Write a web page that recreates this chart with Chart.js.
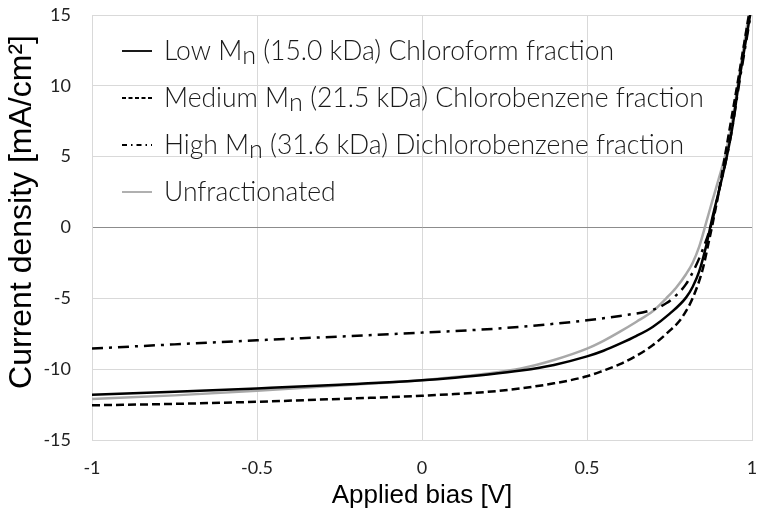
<!DOCTYPE html>
<html>
<head>
<meta charset="utf-8">
<script src="https://cdn.jsdelivr.net/npm/chart.js@4"></script>
<style>
  html, body { margin: 0; padding: 0; background: #ffffff; }
  #wrap { width: 763px; height: 516px; }
</style>
</head>
<body>
<div id="wrap"><canvas id="c" width="763" height="516"></canvas></div>
<script>
// ---- Data ----
const seriesNames = [
  'Low Mₙ (15.0 kDa) Chloroform fraction',
  'Medium Mₙ (21.5 kDa) Chlorobenzene fraction',
  'High Mₙ (31.6 kDa) Dichlorobenzene fraction',
  'Unfractionated'
];

const lowV  = [-1, -0.75, -0.5, -0.25, 0, 0.1, 0.2, 0.3, 0.4, 0.5, 0.55, 0.6, 0.65, 0.7, 0.75, 0.8, 0.82, 0.84, 0.86, 0.88, 0.9, 0.92, 0.94, 0.96, 0.98, 1.0];
const lowJ  = [-11.8, -11.6, -11.36, -11.1, -10.78, -10.6, -10.38, -10.1, -9.7, -9.1, -8.7, -8.2, -7.65, -7.0, -6.1, -4.95, -4.2, -3.1, -1.4, 0.7, 2.6, 4.6, 7.0, 10.2, 13.0, 15.8];

const medV  = [-1, -0.75, -0.5, -0.25, 0, 0.1, 0.2, 0.3, 0.4, 0.5, 0.55, 0.6, 0.65, 0.7, 0.75, 0.78, 0.8, 0.82, 0.85, 0.87, 0.88, 0.9, 0.92, 0.94, 0.96, 0.98, 1.0];
const medJ  = [-12.55, -12.45, -12.3, -12.1, -11.88, -11.75, -11.6, -11.35, -11.0, -10.5, -10.1, -9.65, -9.05, -8.3, -7.3, -6.6, -5.9, -5.0, -3.0, -0.9, 0.2, 2.6, 5.3, 8.0, 10.7, 13.5, 16.3];

const highV = [-1, -0.75, -0.5, -0.25, 0, 0.25, 0.5, 0.6, 0.7, 0.74, 0.76, 0.8, 0.83, 0.85, 0.87, 0.88, 0.9, 0.92, 0.94, 0.96, 0.98, 1.0];
const highJ = [-8.54, -8.25, -7.96, -7.7, -7.42, -7.1, -6.55, -6.24, -5.8, -5.35, -5.0, -4.0, -2.7, -1.6, -0.3, 0.5, 2.6, 4.6, 7.0, 10.0, 12.8, 15.6];

const unfV  = [-1, -0.75, -0.5, -0.25, 0, 0.1, 0.2, 0.3, 0.4, 0.5, 0.55, 0.6, 0.65, 0.7, 0.74, 0.77, 0.8, 0.82, 0.84, 0.86, 0.88, 0.9, 0.92, 0.94, 0.96, 0.98, 1.0];
const unfJ  = [-12.1, -11.85, -11.53, -11.15, -10.78, -10.55, -10.3, -9.95, -9.35, -8.55, -8.0, -7.35, -6.65, -5.9, -5.0, -4.25, -3.3, -2.5, -1.35, 0.25, 1.9, 3.5, 5.2, 7.5, 10.5, 13.5, 16.5];

const xTickValues = [-1, -0.5, 0, 0.5, 1];
const xTickLabels = ['-1', '-0.5', '0', '0.5', '1'];
const yTickValues = [-15, -10, -5, 0, 5, 10, 15];
const yTickLabels = ['-15', '-10', '-5', '0', '5', '10', '15'];

const xTitle = 'Applied bias [V]';
const yTitle = 'Current density [mA/cm²]';

// ---- Build ----
function pts(xs, ys) { return xs.map((x, i) => ({ x: x, y: ys[i] })); }

const styles = [
  { color: '#000000', dash: [], legendDash: [] },
  { color: '#000000', dash: [8, 4], legendDash: [4, 2.5] },
  { color: '#000000', dash: [11, 6, 3, 6], legendDash: [5, 4, 1.5, 4] },
  { color: '#a8a8a8', dash: [], legendDash: [] }
];
const allX = [lowV, medV, highV, unfV];
const allY = [lowJ, medJ, highJ, unfJ];

const datasets = seriesNames.map((name, i) => ({
  label: name,
  data: pts(allX[i], allY[i]),
  borderColor: styles[i].color,
  backgroundColor: styles[i].color,
  borderDash: styles[i].dash,
  legendDash: styles[i].legendDash,
  borderWidth: 2.5,
  pointRadius: 0,
  showLine: true,
  fill: false,
  cubicInterpolationMode: 'monotone'
}));

const legendPlugin = {
  id: 'insideLegend',
  afterDatasetsDraw(chart) {
    const ctx = chart.ctx;
    const area = chart.chartArea;
    const x0 = area.left + 30;
    const lineLen = 30;
    const textX = area.left + 72;
    const fontSize = 26.5;
    ctx.save();
    chart.data.datasets.forEach((ds, i) => {
      const y = area.top + 36 + i * 47;
      ctx.beginPath();
      ctx.strokeStyle = ds.borderColor;
      ctx.lineWidth = 1.8;
      ctx.setLineDash(ds.legendDash);
      ctx.moveTo(x0, y);
      ctx.lineTo(x0 + lineLen, y);
      ctx.stroke();
      ctx.setLineDash([]);
      ctx.fillStyle = '#1a1a1a';
      ctx.textBaseline = 'middle';
      ctx.textAlign = 'left';
      const parts = ds.label.split('ₙ');
      let x = textX;
      parts.forEach((p, k) => {
        ctx.font = '300 ' + fontSize + 'px Lato';
        ctx.fillText(p, x, y);
        x += ctx.measureText(p).width;
        if (k < parts.length - 1) {
          ctx.font = '300 ' + (fontSize * 0.95) + 'px Lato';
          ctx.fillText('n', x, y + 5);
          x += ctx.measureText('n').width;
        }
      });
    });
    // y axis title, placed as in the reference
    ctx.save();
    ctx.translate(22, 212);
    ctx.rotate(-Math.PI / 2);
    ctx.font = '32px "Liberation Sans"';
    ctx.fillStyle = '#000000';
    ctx.textAlign = 'center';
    ctx.textBaseline = 'middle';
    ctx.fillText(yTitle, 0, 0);
    ctx.restore();
    ctx.restore();
  }
};

new Chart(document.getElementById('c'), {
  type: 'scatter',
  data: { datasets: datasets },
  options: {
    responsive: false,
    animation: false,
    layout: { padding: { left: 3, right: 11, top: 15, bottom: 4 } },
    plugins: { legend: { display: false }, tooltip: { enabled: false } },
    scales: {
      x: {
        type: 'linear',
        min: -1, max: 1,
        afterBuildTicks: (s) => { s.ticks = xTickValues.map(v => ({ value: v })); },
        afterFit: (s) => { s.height = 72; s.paddingLeft = 0; s.paddingRight = 0; },
        ticks: {
          callback: (v) => xTickLabels[xTickValues.indexOf(v)],
          font: { family: 'Lato', size: 18 },
          color: '#222222',
          padding: 17,
          maxRotation: 0
        },
        grid: { color: '#d9d9d9', lineWidth: 1, drawTicks: false },
        border: { display: true, color: '#d9d9d9' },
        title: {
          display: true, text: xTitle,
          font: { family: 'Liberation Sans', size: 26 },
          color: '#000000',
          padding: { top: 0, bottom: 1 }
        }
      },
      y: {
        type: 'linear',
        min: -15, max: 15,
        afterBuildTicks: (s) => { s.ticks = yTickValues.map(v => ({ value: v })); },
        afterFit: (s) => { s.width = 89; s.paddingTop = 0; s.paddingBottom = 0; },
        ticks: {
          callback: (v) => yTickLabels[yTickValues.indexOf(v)],
          font: { family: 'Lato', size: 18 },
          color: '#222222',
          padding: 21
        },
        grid: {
          color: (c) => (c.tick && c.tick.value === 0) ? '#8c8c8c' : '#d9d9d9',
          lineWidth: 1,
          drawTicks: false
        },
        border: { display: true, color: '#d9d9d9' },
        title: { display: false }
      }
    }
  },
  plugins: [legendPlugin]
});
</script>
</body>
</html>
